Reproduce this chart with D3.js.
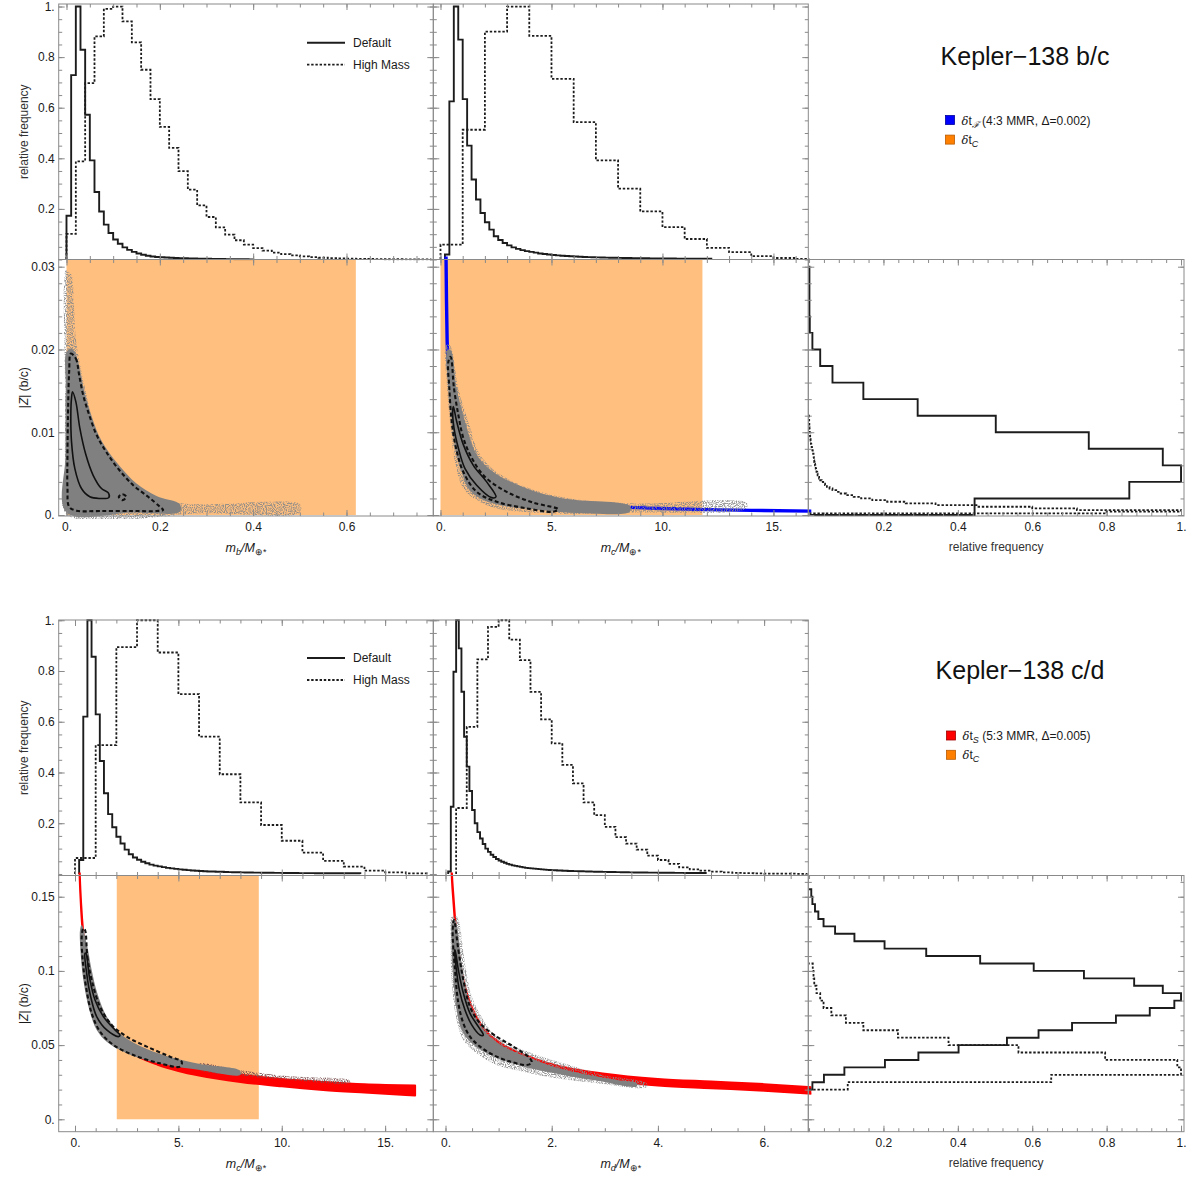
<!DOCTYPE html>
<html>
<head>
<meta charset="utf-8">
<script src="https://cdn.jsdelivr.net/npm/d3@7"></script>
<style>
body { margin: 0; background: #fff; }
</style>
</head>
<body>
<script>
var FONT = '"Liberation Sans", Arial, Helvetica, sans-serif';

// ---------------- data ----------------
// tick values
var mbTicks = [0, 0.2, 0.4, 0.6];
var mcTicksBC = [0, 5, 10, 15];
var mcTicksCD = [0, 5, 10, 15];
var mdTicks = [0, 2, 4, 6];
var freqTicks = [0.2, 0.4, 0.6, 0.8, 1];
var zbcTicks = [0, 0.01, 0.02, 0.03];
var zcdTicks = [0, 0.05, 0.1, 0.15];

// histograms: bin = [first edge, width]
var mbDefaultBin = [0, 0.01];
var mbDefault = [0.173, 0.729, 1.0, 0.829, 0.572, 0.392, 0.267, 0.19, 0.138, 0.105,
  0.079, 0.062, 0.048, 0.038, 0.030, 0.024, 0.019, 0.015, 0.012, 0.010,
  0.009, 0.008, 0.007, 0.006, 0.0055, 0.005, 0.0045, 0.004, 0.0035, 0.003,
  0.0027, 0.0024, 0.0021, 0.0018, 0.0016, 0.0014, 0.0012, 0.001, 0.0008, 0.0006];
var mbHighBin = [0, 0.02];
var mbHigh = [0.101, 0.388, 0.697, 0.882, 0.991, 1.0, 0.941, 0.858, 0.75, 0.634,
  0.524, 0.441, 0.349, 0.276, 0.214, 0.168, 0.127, 0.098, 0.076, 0.059,
  0.045, 0.035, 0.027, 0.021, 0.016, 0.012, 0.009, 0.007, 0.005, 0.004,
  0.003, 0.0025, 0.002, 0.0015, 0.001, 0.001, 0.0008, 0.0006, 0.0004];

var mcDefaultBin = [0.2, 0.2];
var mcDefault = [0.02, 0.625, 1.0, 0.869, 0.634, 0.45, 0.316, 0.237, 0.184, 0.147,
  0.118, 0.092, 0.077, 0.065, 0.056, 0.048, 0.042, 0.037, 0.033, 0.030,
  0.027, 0.024, 0.022, 0.020, 0.018, 0.0165, 0.015, 0.014, 0.013, 0.012,
  0.011, 0.010, 0.0095, 0.009, 0.0085, 0.008, 0.0075, 0.007, 0.0067, 0.0064,
  0.006, 0.0058, 0.0055, 0.0052, 0.005, 0.0048, 0.0046, 0.0044, 0.0042, 0.004,
  0.0038, 0.0037, 0.0036, 0.0035, 0.0034, 0.0033, 0.0032, 0.0031, 0.003, 0.003];
var mcHighBin = [0, 1];
var mcHigh = [0.059, 0.513, 0.901, 1.0, 0.884, 0.714, 0.543, 0.392, 0.28, 0.19,
  0.128, 0.081, 0.046, 0.029, 0.013, 0.006, 0.002];

var mcDefaultCDBin = [0.2, 0.2];
var mcDefaultCD = [0.055, 0.62, 1.0, 0.856, 0.629, 0.445, 0.318, 0.236, 0.184, 0.147,
  0.12, 0.096, 0.078, 0.065, 0.056, 0.048, 0.042, 0.037, 0.033, 0.030,
  0.027, 0.024, 0.022, 0.020, 0.018, 0.0165, 0.015, 0.014, 0.013, 0.012,
  0.011, 0.010, 0.0095, 0.009, 0.0085, 0.008, 0.0075, 0.007, 0.0067, 0.0064,
  0.006, 0.0058, 0.0055, 0.0052, 0.005, 0.0048, 0.0046, 0.0044, 0.0042, 0.004,
  0.0038, 0.0037, 0.0036, 0.0035, 0.0034, 0.0033, 0.0032, 0.0031, 0.003, 0.003,
  0.0029, 0.0029, 0.0028, 0.0028, 0.0027, 0.0027, 0.0026, 0.0026];
var mcHighCDBin = [0, 1];
var mcHighCD = [0.063, 0.508, 0.894, 1.0, 0.873, 0.709, 0.541, 0.393, 0.282, 0.193,
  0.131, 0.084, 0.052, 0.029, 0.013, 0.006, 0.002];

var mdDefaultBin = [0.05, 0.05];
var mdDefault = [0.01, 0.265, 0.797, 1.0, 0.889, 0.718, 0.541, 0.423, 0.327, 0.252,
  0.20, 0.165, 0.14, 0.118, 0.10, 0.087, 0.076, 0.067, 0.059, 0.053,
  0.048, 0.044, 0.040, 0.037, 0.034, 0.032, 0.030, 0.028, 0.026, 0.024,
  0.023, 0.022, 0.021, 0.020, 0.019, 0.018, 0.017, 0.016, 0.0155, 0.015,
  0.0145, 0.014, 0.0135, 0.013, 0.0125, 0.012, 0.0117, 0.0114, 0.0111, 0.0108,
  0.0105, 0.0102, 0.0099, 0.0096, 0.0093, 0.009, 0.0088, 0.0086, 0.0084, 0.0082,
  0.008, 0.0078, 0.0076, 0.0074, 0.0072, 0.007, 0.0068, 0.0066, 0.0064, 0.0062,
  0.006, 0.0059, 0.0058, 0.0057, 0.0056, 0.0055, 0.0054, 0.0053, 0.0052, 0.0051,
  0.005, 0.0049, 0.0048, 0.0047, 0.0046, 0.0045, 0.0044, 0.0043, 0.0042, 0.0041,
  0.004, 0.004, 0.0039, 0.0039, 0.0038, 0.0038, 0.0037];
var mdHighBin = [0.2, 0.2];
var mdHigh = [0.26, 0.58, 0.846, 0.974, 1.0, 0.924, 0.843, 0.718, 0.609, 0.515,
  0.43, 0.357, 0.282, 0.232, 0.186, 0.145, 0.12, 0.096, 0.072, 0.055,
  0.04, 0.026, 0.018, 0.013, 0.009, 0.006, 0.004, 0.003, 0.002, 0.0015,
  0.001, 0.001, 0.0008];

var zbcDefaultBin = [0, 0.002];
var zbcDefault = [0.445, 0.861, 1.0, 0.951, 0.752, 0.502, 0.292, 0.146, 0.063, 0.030,
  0.009, 0.002, 0.001, 0.001, 0.001];
var zbcHighBin = [0.0002, 0.0002];
var zbcHigh = [0.80, 1.0, 0.72, 0.60, 0.45, 0.34, 0.26, 0.21, 0.17, 0.14,
  0.12, 0.10, 0.085, 0.073, 0.063, 0.055, 0.048, 0.043, 0.038, 0.034,
  0.030, 0.027, 0.025, 0.023, 0.022, 0.020, 0.019, 0.018, 0.017, 0.016,
  0.015, 0.014, 0.0135, 0.013, 0.0125, 0.012, 0.011, 0.010, 0.009, 0.008,
  0.007, 0.006, 0.005, 0.0045, 0.004, 0.0035, 0.003, 0.0025, 0.002, 0.0018,
  0.0015, 0.0012, 0.001, 0.0008, 0.0006, 0.0004, 0.0003, 0.0002, 0.0001];

var zcdDefaultBin = [0.02, 0.005];
var zcdDefault = [0.009, 0.040, 0.095, 0.204, 0.294, 0.402, 0.532, 0.617, 0.707, 0.825,
  0.916, 0.982, 1.0, 0.951, 0.874, 0.739, 0.604, 0.46, 0.315, 0.203,
  0.122, 0.070, 0.039, 0.025, 0.016, 0.009, 0.006];
var zcdHighBin = [0.02, 0.005];
var zcdHigh = [0.104, 0.651, 1.0, 0.99, 0.796, 0.563, 0.375, 0.239, 0.146, 0.099,
  0.06, 0.039, 0.03, 0.02, 0.014, 0.012, 0.01];

// stability regions (delta t_C) : mass ranges
var orangeMb = [0, 0.62];
var orangeMc = [0, 11.8];
var orangeMcCD = [2.02, 8.89];

// resonance curves
var resBCm = [0.24, 0.25, 0.27, 0.30, 0.35, 0.45, 0.6, 0.8, 1.0, 1.5, 2, 3, 4, 6, 8, 10, 12, 14, 16.8];
var resBCz = [0.034, 0.031, 0.026, 0.021, 0.0185, 0.0158, 0.0125, 0.0097, 0.0078, 0.0052,
  0.0039, 0.0026, 0.00195, 0.0013, 0.00098, 0.00078, 0.00065, 0.00056, 0.00047];

var resCDm = [0.2, 0.25, 0.3, 0.4, 0.5, 0.7, 1, 1.5, 2, 3, 4, 5, 6, 8, 10, 12, 14, 16.45];
var resCDlo = [0.172, 0.1538, 0.140, 0.121, 0.108, 0.091, 0.0758, 0.0615, 0.053, 0.0428,
  0.0368, 0.0326, 0.0295, 0.0252, 0.0222, 0.0198, 0.018, 0.016];
var resCDhi = [0.177, 0.1582, 0.1446, 0.1255, 0.1125, 0.0954, 0.0802, 0.0659, 0.0574, 0.0472,
  0.0412, 0.0372, 0.0341, 0.030, 0.0272, 0.0252, 0.0236, 0.0228];

var resDm = [0.11, 0.12, 0.15, 0.2, 0.25, 0.3, 0.4, 0.5, 0.7, 1.0, 1.5, 2, 3, 4, 5, 6, 7];
var resDlo = [0.1698, 0.1618, 0.1458, 0.1228, 0.1078, 0.0958, 0.0808, 0.0708, 0.0578, 0.0478,
  0.0388, 0.0328, 0.0263, 0.0228, 0.021, 0.0193, 0.017];
var resDhi = [0.1742, 0.1662, 0.1502, 0.1272, 0.1122, 0.1002, 0.0852, 0.0752, 0.0622, 0.0522,
  0.0432, 0.0372, 0.0307, 0.0272, 0.0254, 0.0237, 0.0214];

// sample clouds and contours, [mass, |Z|]
var cloudBhalo = [[-0.0014, 0.0296], [0.0036, 0.0294], [0.0107, 0.0290], [0.0157, 0.0254],
  [0.02, 0.0213], [0.0321, 0.0173], [0.0443, 0.0141], [0.06, 0.0105], [0.085, 0.0073],
  [0.1286, 0.0044], [0.1786, 0.0024], [0.25, 0.0014], [0.357, 0.0014], [0.429, 0.0016],
  [0.5, 0.0013], [0.5, 0.0003], [0.3, 0.0002], [0.0, 0.0001], [-0.003, 0.005], [-0.003, 0.015]];
var cloudB = [[0.0, 0.0197], [0.0114, 0.0201], [0.0229, 0.0189], [0.0307, 0.0169], [0.04, 0.0145],
  [0.0529, 0.0121], [0.0686, 0.0097], [0.0893, 0.0077], [0.1157, 0.0058], [0.15, 0.0038],
  [0.1929, 0.0023], [0.2429, 0.0013], [0.2429, 0.0004], [0.1429, 0.0003], [0.0, 0.0003],
  [-0.0021, 0.0073], [-0.0014, 0.0153]];
var outerB = [[0.0093, 0.0195], [0.02, 0.0189], [0.0272, 0.0169], [0.0357, 0.0145], [0.0486, 0.0121],
  [0.0643, 0.0097], [0.0843, 0.0077], [0.1107, 0.0056], [0.1429, 0.0036], [0.175, 0.0022],
  [0.2, 0.0010], [0.2071, 0.0006], [0.1929, 0.00048], [0.1429, 0.00048], [0.0714, 0.00048],
  [0.0214, 0.00052], [0.0057, 0.0010], [0.0021, 0.0032], [0.0021, 0.0073], [0.0036, 0.0133],
  [0.0057, 0.0173]];
var innerB = [[0.0129, 0.0149], [0.02, 0.0137], [0.0286, 0.0105], [0.0414, 0.0073], [0.0571, 0.0048],
  [0.075, 0.0032], [0.0893, 0.0027], [0.0907, 0.0021], [0.0714, 0.0020], [0.05, 0.0022],
  [0.0321, 0.0032], [0.0179, 0.0056], [0.0107, 0.0089], [0.0093, 0.0121], [0.0107, 0.0141]];
var islandB = [[0.112, 0.0022], [0.12, 0.0025], [0.128, 0.0022], [0.12, 0.0018]];

var cloudCbcHalo = [[0.428, 0.0205], [0.803, 0.0153], [1.254, 0.0113], [1.78, 0.0073], [2.53, 0.0052],
  [4.03, 0.0032], [5.83, 0.0020], [8.83, 0.0014], [13.78, 0.0015], [13.78, 0.0008], [8.53, 0.0003],
  [5.53, 0.00016], [2.53, 0.0008], [1.63, 0.0018], [1.029, 0.0032], [0.653, 0.0064],
  [0.428, 0.0113], [0.278, 0.0161], [0.248, 0.0205]];
var cloudCbc = [[0.459, 0.0199], [0.729, 0.0153], [1.104, 0.0113], [1.63, 0.0073], [2.38, 0.0052],
  [3.88, 0.0032], [5.53, 0.0020], [8.53, 0.0011], [8.53, 0.0004], [6.28, 0.0002], [4.48, 0.0006],
  [2.68, 0.0012], [1.78, 0.0020], [1.254, 0.0032], [0.953, 0.0052], [0.729, 0.0073],
  [0.504, 0.0113], [0.354, 0.0153], [0.308, 0.0199]];
var outerCbc = [[0.459, 0.0191], [0.609, 0.0153], [0.804, 0.0121], [1.029, 0.0093], [1.404, 0.0069],
  [2.005, 0.0046], [2.98, 0.0028], [4.18, 0.0015], [5.3, 0.0007], [5.08, 0.0004], [3.88, 0.0008],
  [2.53, 0.0016], [1.63, 0.0028], [1.029, 0.0052], [0.699, 0.0081], [0.504, 0.0113],
  [0.399, 0.0153], [0.354, 0.0185]];
var innerCbc = [[0.579, 0.0131], [0.729, 0.0113], [1.029, 0.0085], [1.479, 0.0060], [2.08, 0.0040],
  [2.5, 0.0022], [2.305, 0.0021], [1.63, 0.0036], [1.104, 0.0056], [0.804, 0.0081],
  [0.609, 0.0105], [0.549, 0.0125]];

var cloudCcd = [[0.323, 0.1309], [0.597, 0.1163], [0.806, 0.1006], [1.08, 0.0849], [1.532, 0.0692],
  [2.177, 0.0579], [3.145, 0.0494], [4.435, 0.0427], [6.048, 0.0373], [7.983, 0.0328],
  [7.983, 0.0299], [6.048, 0.0333], [4.435, 0.0366], [3.145, 0.0411], [2.177, 0.0467],
  [1.532, 0.0523], [1.048, 0.0602], [0.693, 0.0737], [0.403, 0.0939], [0.274, 0.1119], [0.242, 0.1276]];
var cloudCcdHalo = [[6.0, 0.0375], [8.0, 0.0330], [10.24, 0.0292], [13.3, 0.0262],
  [13.3, 0.0245], [10.24, 0.0266], [8.0, 0.0296], [6.0, 0.0335]];
var outerCcd = [[0.484, 0.1276], [0.597, 0.1096], [0.806, 0.0939], [1.21, 0.0759], [1.774, 0.0636],
  [2.5, 0.0557], [3.468, 0.049], [4.597, 0.0422], [5.161, 0.0388], [5.081, 0.0355], [4.113, 0.0377],
  [2.823, 0.0433], [1.855, 0.0501], [1.21, 0.0591], [0.806, 0.0714], [0.532, 0.0894],
  [0.371, 0.1074], [0.323, 0.1231], [0.403, 0.1287]];
var innerCcd = [[0.532, 0.1119], [0.693, 0.0962], [0.968, 0.0804], [1.371, 0.0692], [1.935, 0.0602],
  [2.177, 0.0568], [2.097, 0.0557], [1.532, 0.0602], [1.048, 0.0692], [0.758, 0.0827],
  [0.564, 0.0984], [0.484, 0.1119]];

var cloudDhalo = [[0.21, 0.1366], [0.367, 0.1051], [0.493, 0.0827], [0.712, 0.067], [0.964, 0.0557],
  [1.466, 0.0467], [2.219, 0.0377], [2.973, 0.0299], [3.788, 0.0243], [3.788, 0.0216],
  [2.847, 0.0243], [2.094, 0.0276], [1.466, 0.0321], [0.964, 0.0366], [0.587, 0.0445],
  [0.336, 0.0535], [0.21, 0.067], [0.116, 0.0939], [0.097, 0.1231], [0.116, 0.1366]];
var cloudD = [[0.179, 0.1343], [0.304, 0.1051], [0.399, 0.0849], [0.556, 0.0692], [0.775, 0.0579],
  [1.089, 0.049], [1.529, 0.0422], [2.031, 0.0355], [2.533, 0.031], [3.224, 0.0265], [3.6, 0.0243],
  [3.6, 0.0221], [2.847, 0.0261], [2.219, 0.0299], [1.591, 0.0344], [1.152, 0.0389],
  [0.775, 0.0445], [0.493, 0.0512], [0.304, 0.0602], [0.21, 0.0737], [0.148, 0.0939],
  [0.116, 0.1163], [0.135, 0.1343]];
var outerD = [[0.161, 0.1343], [0.242, 0.1141], [0.336, 0.0939], [0.461, 0.0759], [0.65, 0.0647],
  [0.964, 0.0557], [1.278, 0.049], [1.591, 0.0411], [1.623, 0.0382], [1.529, 0.0366],
  [1.215, 0.0389], [0.901, 0.0433], [0.65, 0.049], [0.461, 0.0557], [0.336, 0.0647],
  [0.242, 0.0782], [0.179, 0.1006], [0.135, 0.1276]];
var innerD = [[0.179, 0.1141], [0.242, 0.1006], [0.336, 0.0849], [0.461, 0.0714], [0.618, 0.0624],
  [0.712, 0.0568], [0.65, 0.0568], [0.493, 0.0636], [0.367, 0.0737], [0.261, 0.0871],
  [0.198, 0.1028], [0.173, 0.1141]];

// ---------------- drawing ----------------
var svg = d3.select("body").append("svg")
  .attr("width", 1191).attr("height", 1181)
  .style("font-family", FONT);
var defs = svg.append("defs");
defs.append("filter").attr("id", "soft").append("feGaussianBlur").attr("stdDeviation", 0.7);
// speckled look for the sparse outskirts of the sample clouds
var speck = defs.append("filter").attr("id", "speckle");
speck.append("feTurbulence").attr("type", "fractalNoise").attr("baseFrequency", 0.9)
  .attr("numOctaves", 1).attr("seed", 3).attr("result", "noise");
speck.append("feColorMatrix").attr("in", "noise").attr("type", "matrix")
  .attr("values", "0 0 0 0 0  0 0 0 0 0  0 0 0 0 0  4 0 0 0 -1.6").attr("result", "mask");
speck.append("feComposite").attr("in", "SourceGraphic").attr("in2", "mask").attr("operator", "in");

var layerData = svg.append("g");
var layerAxes = svg.append("g");
var clipCount = 0;

var colL = [58.7, 433.3], colM = [433.3, 808.3], colR = [808.3, 1184];
var topHist = [4, 259.5], topScat = [259.5, 516];
var botHist = [620, 875.5], botScat = [875.5, 1131.7];

function makePanel(xr, yr, xd, yd, pad) {
  var p = { x0: xr[0], x1: xr[1], y0: yr[0], y1: yr[1] };
  p.x = d3.scaleLinear().domain(xd).range(xr);
  p.y = d3.scaleLinear().domain(yd).range([yr[1], yr[0]]);
  var id = "clip" + (clipCount++);
  defs.append("clipPath").attr("id", id).append("rect")
    .attr("x", xr[0] - pad).attr("y", yr[0] - pad)
    .attr("width", xr[1] - xr[0] + 2 * pad).attr("height", yr[1] - yr[0] + 2 * pad);
  p.plot = layerData.append("g").attr("clip-path", "url(#" + id + ")");
  p.g = layerAxes.append("g");
  return p;
}

var mbDom = [-0.0167, 0.786], mcDom = [-0.324, 16.57], mcDomCD = [-0.789, 17.33], mdDom = [-0.23, 6.832];
var frDom = [-0.002, 1.008];
var histDom = [0, 1.01], histDomCD = [-0.006, 1.001];
var zbcDom = [-0.00012, 0.03087], zcdDom = [-0.00836, 0.1643];

var pA = makePanel(colL, topHist, mbDom, histDom, 1);
var pB = makePanel(colM, topHist, mcDom, histDom, 1);
var pC = makePanel(colL, topScat, mbDom, zbcDom, 3);
var pD = makePanel(colM, topScat, mcDom, zbcDom, 3);
var pE = makePanel(colR, topScat, frDom, zbcDom, 1);
var pF = makePanel(colL, botHist, mcDomCD, histDomCD, 1);
var pI = makePanel(colM, botHist, mdDom, histDomCD, 1);
var pG = makePanel(colL, botScat, mcDomCD, zcdDom, 3);
var pH = makePanel(colM, botScat, mdDom, zcdDom, 3);
var pJ = makePanel(colR, botScat, frDom, zcdDom, 1);

function stepPoints(bin, vals) {
  var pts = [[bin[0], 0]];
  vals.forEach(function(v, i) {
    pts.push([bin[0] + i * bin[1], v]);
    pts.push([bin[0] + (i + 1) * bin[1], v]);
  });
  pts.push([bin[0] + vals.length * bin[1], 0]);
  return pts;
}

function styleHist(path, dashed) {
  path.attr("fill", "none").attr("stroke", "#1c1c1c")
    .attr("stroke-width", dashed ? 1.8 : 1.9)
    .attr("stroke-dasharray", dashed ? "2.4,1.8" : null);
}

function histV(p, bin, vals, dashed) {
  var line = d3.line().x(function(d) { return p.x(d[0]); }).y(function(d) { return p.y(d[1]); });
  styleHist(p.plot.append("path").attr("d", line(stepPoints(bin, vals))), dashed);
}

function histH(p, bin, vals, dashed) {
  var line = d3.line().x(function(d) { return p.x(d[1]); }).y(function(d) { return p.y(d[0]); });
  styleHist(p.plot.append("path").attr("d", line(stepPoints(bin, vals))), dashed);
}

function orange(p, range) {
  var top = p.y.domain()[1];
  p.plot.append("rect")
    .attr("x", p.x(range[0])).attr("width", p.x(range[1]) - p.x(range[0]))
    .attr("y", p.y(top)).attr("height", p.y(0) - p.y(top))
    .attr("fill", "#ff7f00").attr("opacity", 0.5);
}

function band(p, ms, lo, hi, color, sw) {
  var a = d3.area()
    .x(function(d, i) { return p.x(ms[i]); })
    .y0(function(d, i) { return p.y(lo[i]); })
    .y1(function(d, i) { return p.y(hi[i]); })
    .curve(d3.curveMonotoneX);
  p.plot.append("path").attr("d", a(ms)).attr("fill", color)
    .attr("stroke", color).attr("stroke-width", sw).attr("stroke-linejoin", "round");
}

function curveLine(p, ms, zs, color, sw) {
  var l = d3.line()
    .x(function(d, i) { return p.x(ms[i]); })
    .y(function(d, i) { return p.y(zs[i]); })
    .curve(d3.curveMonotoneX);
  p.plot.append("path").attr("d", l(ms)).attr("fill", "none")
    .attr("stroke", color).attr("stroke-width", sw);
}

function region(p, pts, fill, opacity, filter) {
  var l = d3.line().x(function(d) { return p.x(d[0]); }).y(function(d) { return p.y(d[1]); })
    .curve(d3.curveCatmullRomClosed.alpha(0.5));
  p.plot.append("path").attr("d", l(pts)).attr("fill", fill).attr("opacity", opacity)
    .attr("filter", "url(#" + (filter || "soft") + ")");
}

function contour(p, pts, dashed) {
  var l = d3.line().x(function(d) { return p.x(d[0]); }).y(function(d) { return p.y(d[1]); })
    .curve(d3.curveCatmullRomClosed.alpha(0.5));
  p.plot.append("path").attr("d", l(pts)).attr("fill", "none").attr("stroke", "#111")
    .attr("stroke-width", dashed ? 2.1 : 1.6)
    .attr("stroke-dasharray", dashed ? "4,2.6" : null);
}

// histograms
histV(pA, mbHighBin, mbHigh, true);
histV(pA, mbDefaultBin, mbDefault, false);
histV(pB, mcHighBin, mcHigh, true);
histV(pB, mcDefaultBin, mcDefault, false);
histV(pF, mcHighCDBin, mcHighCD, true);
histV(pF, mcDefaultCDBin, mcDefaultCD, false);
histV(pI, mdHighBin, mdHigh, true);
histV(pI, mdDefaultBin, mdDefault, false);
histH(pE, zbcHighBin, zbcHigh, true);
histH(pE, zbcDefaultBin, zbcDefault, false);
histH(pJ, zcdHighBin, zcdHigh, true);
histH(pJ, zcdDefaultBin, zcdDefault, false);

// scatter panels, b/c
orange(pC, orangeMb);
region(pC, cloudBhalo, "#8a8a8a", 0.9, "speckle");
region(pC, cloudB, "#808080", 1);
contour(pC, outerB, true);
contour(pC, islandB, true);
contour(pC, innerB, false);

orange(pD, orangeMc);
curveLine(pD, resBCm, resBCz, "#0000ff", 3.4);
region(pD, cloudCbcHalo, "#8a8a8a", 0.9, "speckle");
region(pD, cloudCbc, "#808080", 1);
contour(pD, outerCbc, true);
contour(pD, innerCbc, false);

// scatter panels, c/d
orange(pG, orangeMcCD);
band(pG, resCDm, resCDlo, resCDhi, "#ff0000", 2);
region(pG, cloudCcdHalo, "#7a5050", 0.9, "speckle");
region(pG, cloudCcd, "#808080", 1);
contour(pG, outerCcd, true);
contour(pG, innerCcd, false);

band(pH, resDm, resDlo, resDhi, "#ff0000", 2);
region(pH, cloudDhalo, "#8a8a8a", 0.9, "speckle");
region(pH, cloudD, "#808080", 1);
contour(pH, outerD, true);
contour(pH, innerD, false);

// ---------------- frames & ticks ----------------
function fmt(v) { return Number.isInteger(v) ? v + "." : String(v); }

function minorTicks(scale, step) {
  var d = scale.domain(), out = [];
  var i0 = Math.ceil(d[0] / step - 1e-9), i1 = Math.floor(d[1] / step + 1e-9);
  for (var i = i0; i <= i1; i++) out.push(+(i * step).toFixed(8));
  return out;
}

function edge(p, side, vals, size, labels) {
  var ax, tr, scale = (side === "bottom" || side === "top") ? p.x : p.y;
  if (side === "bottom") { ax = d3.axisBottom(scale); tr = [0, p.y1]; }
  if (side === "top") { ax = d3.axisTop(scale); tr = [0, p.y0]; }
  if (side === "left") { ax = d3.axisLeft(scale); tr = [p.x0, 0]; }
  if (side === "right") { ax = d3.axisRight(scale); tr = [p.x1, 0]; }
  ax.tickValues(vals).tickSizeInner(-size).tickSizeOuter(0)
    .tickPadding(side === "bottom" ? 6.5 : 4)
    .tickFormat(labels ? fmt : "");
  var g = p.g.append("g").attr("transform", "translate(" + tr + ")").call(ax);
  g.attr("font-family", FONT).attr("font-size", 12).attr("color", "#1a1a1a");
  g.select(".domain").remove();
  g.selectAll(".tick line").attr("stroke", "#8a8a8a");
}

function frame(p, xMajor, xStep, yMajor, yStep, xLabels, yLabels) {
  var xm = minorTicks(p.x, xStep), ym = minorTicks(p.y, yStep);
  ["bottom", "top"].forEach(function(s) {
    edge(p, s, xm, 3.5, false);
    edge(p, s, xMajor, 6, s === "bottom" && xLabels);
  });
  ["left", "right"].forEach(function(s) {
    edge(p, s, ym, 3.5, false);
    edge(p, s, yMajor, 6, s === "left" && yLabels);
  });
  p.g.append("rect").attr("x", p.x0).attr("y", p.y0)
    .attr("width", p.x1 - p.x0).attr("height", p.y1 - p.y0)
    .attr("fill", "none").attr("stroke", "#8a8a8a").attr("stroke-width", 1);
}

frame(pA, mbTicks, 0.05, freqTicks, 0.05, false, true);
frame(pB, mcTicksBC, 1, freqTicks, 0.05, false, false);
frame(pC, mbTicks, 0.05, zbcTicks, 0.002, true, true);
frame(pD, mcTicksBC, 1, zbcTicks, 0.002, true, false);
frame(pE, freqTicks, 0.04, zbcTicks, 0.002, true, false);
frame(pF, mcTicksCD, 1, freqTicks, 0.05, false, true);
frame(pI, mdTicks, 0.5, freqTicks, 0.05, false, false);
frame(pG, mcTicksCD, 1, zcdTicks, 0.01, true, true);
frame(pH, mdTicks, 0.5, zcdTicks, 0.01, true, false);
frame(pJ, freqTicks, 0.04, zcdTicks, 0.01, true, false);

// ---------------- labels ----------------
var txt = svg.append("g").attr("fill", "#1a1a1a").attr("font-size", 12);

function yTitle(p, build) {
  var t = txt.append("text").attr("text-anchor", "middle")
    .attr("transform", "translate(28," + ((p.y0 + p.y1) / 2) + ") rotate(-90)");
  build(t);
}
function relFreq(t) { t.attr("fill", "#333").text("relative frequency"); }
function zLabel(t) {
  t.append("tspan").text("|");
  t.append("tspan").attr("font-style", "italic").text("Z");
  t.append("tspan").text("| (b/c)");
}
yTitle(pA, relFreq);
yTitle(pF, relFreq);
yTitle(pC, zLabel);
yTitle(pG, zLabel);

function massTitle(p, sub) {
  var t = txt.append("text").attr("text-anchor", "middle")
    .attr("x", (p.x0 + p.x1) / 2).attr("y", p.y1 + 36).attr("font-style", "italic")
    .attr("font-size", 12.5);
  t.append("tspan").text("m");
  t.append("tspan").attr("font-size", 9).attr("dy", 3).text(sub);
  t.append("tspan").attr("dy", -3).text("/M");
  t.append("tspan").attr("font-size", 9).attr("dy", 3).attr("font-style", "normal").text("⊕*");
}
massTitle(pC, "b");
massTitle(pD, "c");
massTitle(pG, "c");
massTitle(pH, "d");
[pE, pJ].forEach(function(p) {
  txt.append("text").attr("text-anchor", "middle").attr("fill", "#333")
    .attr("x", (p.x0 + p.x1) / 2).attr("y", p.y1 + 35).text("relative frequency");
});

// legends in the histograms
function histLegend(p, ly) {
  var g = txt.append("g");
  g.append("line").attr("x1", 307).attr("x2", 345).attr("y1", ly).attr("y2", ly)
    .attr("stroke", "#1c1c1c").attr("stroke-width", 1.9);
  g.append("line").attr("x1", 307).attr("x2", 345).attr("y1", ly + 22).attr("y2", ly + 22)
    .attr("stroke", "#1c1c1c").attr("stroke-width", 1.8).attr("stroke-dasharray", "2.4,1.8");
  g.append("text").attr("x", 353).attr("y", ly + 4.3).text("Default");
  g.append("text").attr("x", 353).attr("y", ly + 26.3).text("High Mass");
}
histLegend(pA, 42.7);
histLegend(pF, 658);

// titles and resonance legends
function title(x, y, s) {
  txt.append("text").attr("x", x).attr("y", y).attr("text-anchor", "middle")
    .attr("font-size", 25).attr("fill", "#111").text(s);
}
title(1025, 65, "Kepler\u2212138 b/c");
title(1020, 679, "Kepler\u2212138 c/d");

function deltaLegend(x, y, color, edgeColor, sub, rest) {
  txt.append("rect").attr("x", x).attr("y", y - 4.5).attr("width", 9).attr("height", 9)
    .attr("fill", color).attr("stroke", edgeColor).attr("stroke-width", 0.8);
  var t = txt.append("text").attr("x", x + 16).attr("y", y + 4.5);
  t.append("tspan").attr("font-style", "italic").attr("font-family", "DejaVu Serif").attr("font-size", 11.5).text("\u03b4");
  t.append("tspan").text("t");
  t.append("tspan").attr("font-style", "italic").attr("font-size", 9).attr("dy", 3).text(sub);
  if (rest) t.append("tspan").attr("dy", -3).text(rest);
}
deltaLegend(945.5, 120, "#0000ff", "#00009a", "\u2131", " (4:3 MMR, \u0394=0.002)");
deltaLegend(945.5, 139.6, "#ff8000", "#b85a00", "C", "");
deltaLegend(946.5, 735.5, "#ff0000", "#a00000", "S", " (5:3 MMR, \u0394=0.005)");
deltaLegend(946.5, 754.8, "#ff8000", "#b85a00", "C", "");
</script>
</body>
</html>
